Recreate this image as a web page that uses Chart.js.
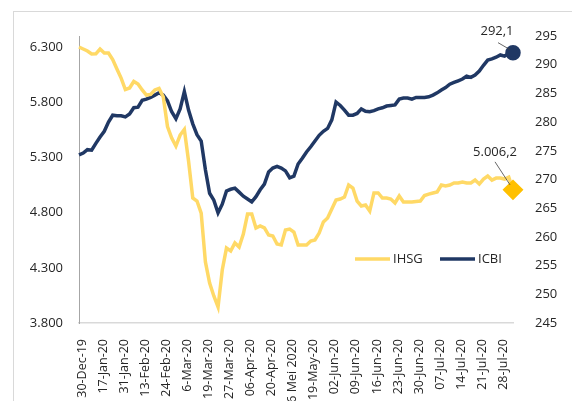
<!DOCTYPE html>
<html>
<head>
<meta charset="utf-8">
<script src="https://cdn.jsdelivr.net/npm/chart.js@4.4.1/dist/chart.umd.min.js"></script>
<style>
  body { margin: 0; background: #fff; overflow: hidden; }
  #wrap { position: relative; width: 572px; height: 401px; }
  #frame { position: absolute; left: 13px; top: 11px; width: 700px; height: 500px; border: 1px solid #d9d9d9; }
  canvas { position: absolute; left: 0; top: 0; }
</style>
</head>
<body>
<div id="wrap">
  <div id="frame"></div>
  <canvas id="chart" width="572" height="401"></canvas>
</div>
<script>
// Tick labels on the date axis (one every 5 points)
const tickLabels = ['30-Dec-19', '17-Jan-20', '31-Jan-20', '13-Feb-20', '24-Feb-20', '6-Mar-20',
  '19-Mar-20', '27-Mar-20', '06-Apr-20', '20-Apr-20', '6 Mei 2020', '19-May-20', '02-Jun-20',
  '09-Jun-20', '16-Jun-20', '23-Jun-20', '30-Jun-20', '07-Jul-20', '14-Jul-20', '21-Jul-20', '28-Jul-20'];
const labelEvery = 5;

// IHSG (left axis)
const ihsg = [6300, 6282, 6264, 6237, 6238, 6282, 6246, 6246, 6187, 6101,
  6019, 5915, 5929, 5988, 5965, 5911, 5865, 5871, 5911, 5925,
  5847, 5580, 5476, 5403, 5503, 5553, 5267, 4932, 4905, 4796,
  4353, 4162, 4045, 3945, 4280, 4479, 4452, 4525, 4488, 4606,
  4787, 4787, 4661, 4679, 4661, 4597, 4588, 4516, 4507, 4642,
  4651, 4624, 4507, 4507, 4507, 4543, 4552, 4615, 4715, 4751,
  4833, 4914, 4923, 4941, 5050, 5023, 4905, 4860, 4869, 4814,
  4978, 4978, 4932, 4932, 4923, 4887, 4950, 4896, 4896, 4896,
  4901, 4905, 4955, 4968, 4978, 4987, 5050, 5041, 5050, 5068,
  5068, 5077, 5068, 5068, 5095, 5059, 5104, 5131, 5095, 5113,
  5113, 5104, 5122, 5006.2];

// ICBI (right axis)
const icbi = [274.3, 274.6, 275.2, 275.1, 276.3, 277.4, 278.4, 280.0, 281.2, 281.1,
  281.1, 280.9, 281.4, 282.5, 282.6, 283.8, 284.0, 284.3, 284.7, 285.1,
  284.7, 283.7, 281.8, 280.6, 282.3, 285.3, 282.1, 279.7, 277.8, 276.7,
  271.7, 267.6, 266.4, 264.2, 265.7, 268.0, 268.3, 268.5, 267.8, 267.1,
  266.6, 266.1, 267.0, 268.2, 269.2, 271.3, 272.0, 272.3, 272.0, 271.5,
  270.3, 270.6, 272.7, 273.7, 274.8, 275.7, 276.7, 277.7, 278.4, 278.9,
  280.4, 283.5, 282.9, 282.1, 281.2, 281.2, 281.5, 282.3, 281.9, 281.8,
  282.0, 282.3, 282.5, 282.8, 282.9, 283.0, 284.0, 284.2, 284.2, 284.0,
  284.3, 284.3, 284.3, 284.4, 284.7, 285.1, 285.6, 286.0, 286.6, 286.9,
  287.2, 287.5, 288.0, 287.8, 288.2, 288.9, 289.9, 290.8, 291.0, 291.3,
  291.7, 291.5, 292.0, 292.1];

const leftTicks = [3800, 4300, 4800, 5300, 5800, 6300];

const labels = ihsg.map((v, i) => i);
const lastIdx = ihsg.length - 1;
const FONT = '"Open Sans", "Noto Sans", sans-serif';

// Format numbers Indonesian style
function fmt(v, dec) {
  return v.toLocaleString('de-DE', { minimumFractionDigits: dec, maximumFractionDigits: dec });
}

// Legend drawn inside the plot area + end-point value labels
const overlayPlugin = {
  id: 'overlay',
  afterDatasetsDraw(chart) {
    const ctx = chart.ctx;
    ctx.save();
    ctx.font = '13px ' + FONT;
    ctx.fillStyle = '#262626';
    ctx.textBaseline = 'middle';

    // legend
    const ly = 259;
    let lx = 355;
    chart.data.datasets.forEach(ds => {
      ctx.strokeStyle = ds.borderColor;
      ctx.lineWidth = 3.5;
      ctx.beginPath();
      ctx.moveTo(lx, ly);
      ctx.lineTo(lx + 35, ly);
      ctx.stroke();
      ctx.textAlign = 'left';
      ctx.fillText(ds.label, lx + 38, ly);
      lx += 85;
    });

    // end labels with leader lines
    const ends = [
      { ds: 1, text: fmt(icbi[lastIdx], 1), dx: -16, dy: -21, lx1: -15, ly1: -10, lx2: -3, ly2: -3 },
      { ds: 0, text: fmt(ihsg[lastIdx], 1), dx: -18, dy: -38, lx1: -18, ly1: -28, lx2: -3, ly2: -5 }
    ];
    ends.forEach(e => {
      const pt = chart.getDatasetMeta(e.ds).data[lastIdx];
      ctx.strokeStyle = '#404040';
      ctx.lineWidth = 0.8;
      ctx.beginPath();
      ctx.moveTo(pt.x + e.lx1, pt.y + e.ly1);
      ctx.lineTo(pt.x + e.lx2, pt.y + e.ly2);
      ctx.stroke();
      ctx.textAlign = 'center';
      ctx.fillText(e.text, pt.x + e.dx, pt.y + e.dy);
    });
    ctx.restore();
  }
};

const ctx = document.getElementById('chart').getContext('2d');
new Chart(ctx, {
  type: 'line',
  data: {
    labels: labels,
    datasets: [{
      label: 'IHSG',
      data: ihsg,
      yAxisID: 'yL',
      borderColor: '#ffd966',
      borderWidth: 3.5,
      pointRadius: ihsg.map((v, i) => i === lastIdx ? 8 : 0),
      pointStyle: 'rectRot',
      pointBackgroundColor: '#ffc000',
      pointBorderColor: '#ffc000',
      tension: 0
    }, {
      label: 'ICBI',
      data: icbi,
      yAxisID: 'yR',
      borderColor: '#203864',
      borderWidth: 3.5,
      pointRadius: icbi.map((v, i) => i === lastIdx ? 6 : 0),
      pointStyle: 'circle',
      pointBackgroundColor: '#203864',
      pointBorderColor: '#203864',
      tension: 0
    }]
  },
  options: {
    responsive: false,
    animation: false,
    layout: { padding: { top: 36, left: 0, right: 0, bottom: 0 } },
    plugins: {
      legend: { display: false },
      tooltip: { enabled: false }
    },
    scales: {
      x: {
        type: 'category',
        offset: false,
        grid: { display: false },
        border: { display: true, color: '#d9d9d9', width: 1.5 },
        ticks: {
          autoSkip: false,
          minRotation: 90,
          maxRotation: 90,
          padding: 8,
          labelOffset: 3,
          color: '#262626',
          font: { family: FONT, size: 12.5 },
          callback: (val, idx) => idx % labelEvery === 0 ? (tickLabels[idx / labelEvery] || '') : ''
        },
        afterFit: s => { s.height = 78; }
      },
      yL: {
        position: 'left',
        min: 3800,
        max: 6400,
        grid: { display: false },
        border: { display: true, color: '#a6a6a6', width: 1 },
        ticks: {
          padding: 8,
          color: '#262626',
          font: { family: FONT, size: 13 },
          callback: v => fmt(v, 0)
        },
        afterBuildTicks: s => { s.ticks = leftTicks.map(v => ({ value: v })); },
        afterFit: s => { s.width = 79; }
      },
      yR: {
        position: 'right',
        min: 245,
        max: 295,
        grid: { display: false },
        border: { display: false },
        ticks: {
          stepSize: 5,
          padding: 14,
          color: '#262626',
          font: { family: FONT, size: 13 }
        },
        afterFit: s => { s.width = 59; }
      }
    }
  },
  plugins: [overlayPlugin]
});
</script>
</body>
</html>
